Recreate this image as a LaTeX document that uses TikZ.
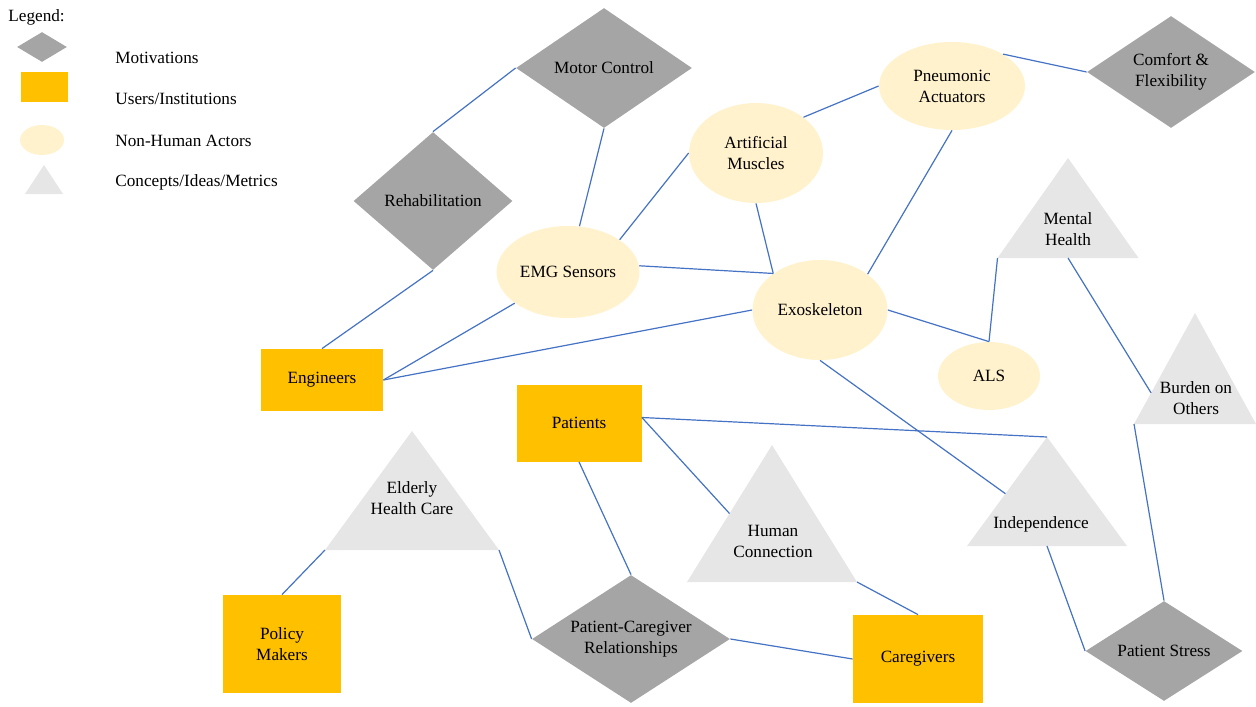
\documentclass[tikz,border=0pt]{standalone}
\usepackage{fontspec}
\setmainfont{Liberation Serif}
\usetikzlibrary{shapes.geometric,calc}

\definecolor{motivgray}{HTML}{A5A5A5}
\definecolor{usergold}{HTML}{FFC000}
\definecolor{actorcream}{HTML}{FFF2CC}
\definecolor{conceptgray}{HTML}{E7E6E6}
\definecolor{linkblue}{HTML}{4472C4}

\tikzset{
  motiv/.style={diamond, fill=motivgray, inner sep=0pt, aspect=1.5, align=center},
  user/.style={rectangle, fill=usergold, inner sep=0pt, align=center},
  actor/.style={ellipse, fill=actorcream, inner sep=0pt, align=center},
  concept/.style={fill=conceptgray},
  lbl/.style={align=center, inner sep=0pt},
  link/.style={draw=linkblue, line width=0.6pt}
}

\begin{document}
\begin{tikzpicture}[x=0.5pt, y=-0.5pt, font=\fontsize{8.6}{10.5}\selectfont]
  \useasboundingbox (0,0) rectangle (1256,706);

  % Legend
  \node[lbl, anchor=west] (lg) at (8,17) {Legend:};
  \node[motiv, minimum width=25pt, minimum height=15pt] (lg-m) at (42,47) {};
  \node[user, minimum width=23.5pt, minimum height=15pt] (lg-u) at (44,87) {};
  \node[actor, minimum width=22pt, minimum height=15pt] (lg-a) at (42,140) {};
  \fill[concept] (44,165) coordinate (lg-c) -- (63,194) -- (25,194) -- cycle;
  \node[lbl, anchor=west] (lg-mt) at (115,58) {Motivations};
  \node[lbl, anchor=west] (lg-ut) at (115,99) {Users/Institutions};
  \node[lbl, anchor=west] (lg-at) at (115,141) {Non-Human Actors};
  \node[lbl, anchor=west] (lg-ct) at (115,182) {Concepts/Ideas/Metrics};

  % Motivations
  \node[motiv, minimum width=88pt, minimum height=60pt] (mc) at (604,68) {Motor Control};
  \node[motiv, minimum width=79.5pt, minimum height=69pt] (rehab) at (433,201) {Rehabilitation};
  \node[motiv, minimum width=84pt, minimum height=56pt] (cf) at (1171,72) {Comfort \&\\Flexibility};
  \node[motiv, minimum width=99pt, minimum height=64pt] (pcr) at (631,639) {Patient-Caregiver\\Relationships};
  \node[motiv, minimum width=78.5pt, minimum height=50pt] (ps) at (1164,651) {Patient Stress};

  % Users/Institutions
  \node[user, minimum width=61pt, minimum height=31pt] (eng) at (322,380) {Engineers};
  \node[user, minimum width=62.5pt, minimum height=38.5pt] (pat) at (579,423) {Patients};
  \node[user, minimum width=59pt, minimum height=49pt] (pm) at (282,644) {Policy\\Makers};
  \node[user, minimum width=65pt, minimum height=44pt] (cg) at (918,659) {Caregivers};

  % Non-Human Actors
  \node[actor, minimum width=71.5pt, minimum height=46pt] (emg) at (568,272) {EMG Sensors};
  \node[actor, minimum width=67pt, minimum height=50pt] (am) at (756,153) {Artificial\\Muscles};
  \node[actor, minimum width=73pt, minimum height=44pt] (pa) at (952,86) {Pneumonic\\Actuators};
  \node[actor, minimum width=67.5pt, minimum height=50pt] (exo) at (820,310) {Exoskeleton};
  \node[actor, minimum width=51pt, minimum height=34pt] (als) at (989,376) {ALS};

  % Concepts/Ideas/Metrics
  \foreach \n/\x/\t/\b/\hw in {mh/1068/158/258/70.5, bo/1195/313/424/61, ehc/412/431/550/87,
      hc/772/445/582/85, ind/1047/437/546/80}{
    \fill[concept] (\x,\t) coordinate (\n-top) -- (\x+\hw,\b) coordinate (\n-r)
      -- (\x-\hw,\b) coordinate (\n-l) -- cycle;
    \path (\x,\b) coordinate (\n-b);
  }
  \node[lbl] (mh) at (1068,229) {Mental\\Health};
  \node[lbl] (bo) at (1196,398) {Burden on\\Others};
  \node[lbl] (ehc) at (412,498) {Elderly\\Health Care};
  \node[lbl] (hc) at (773,541) {Human\\Connection};
  \node[lbl] (ind) at (1041,524) {Independence};

  % Links
  \draw[link] (rehab.north) -- (mc.west);
  \draw[link] (mc.south) -- (emg);
  \draw[link] (rehab.south) -- (eng.north);
  \draw[link] (emg) -- (eng.east);
  \draw[link] (eng.east) -- (exo.west);
  \draw[link] (emg.32) -- (am.west);
  \draw[link] (emg.5) -- (exo.142);
  \draw[link] (am.south) -- (exo.142);
  \draw[link] (am.37) -- (pa.west);
  \draw[link] (pa.south) -- (exo.37);
  \draw[link] (pa.32) -- (cf.west);
  \draw[link] (exo.east) -- (als.north);
  \draw[link] (als.north) -- (mh-l);
  \draw[link] (mh-b) -- ($(bo-top)!0.72!(bo-l)$);
  \draw[link] (bo-l) -- (ps.north);
  \draw[link] (ind-b) -- (ps.west);
  \draw[link] (exo.south) -- ($(ind-top)!0.52!(ind-l)$);
  \draw[link] (pat.5) -- (ind-top);
  \draw[link] (pat.5) -- ($(hc-top)!0.5!(hc-l)$);
  \draw[link] (pat.south) -- (pcr.north);
  \draw[link] (ehc-l) -- (pm.north);
  \draw[link] (ehc-r) -- (pcr.west);
  \draw[link] (pcr.east) -- (cg.west);
  \draw[link] (hc-r) -- (cg.north);
\end{tikzpicture}
\end{document}
